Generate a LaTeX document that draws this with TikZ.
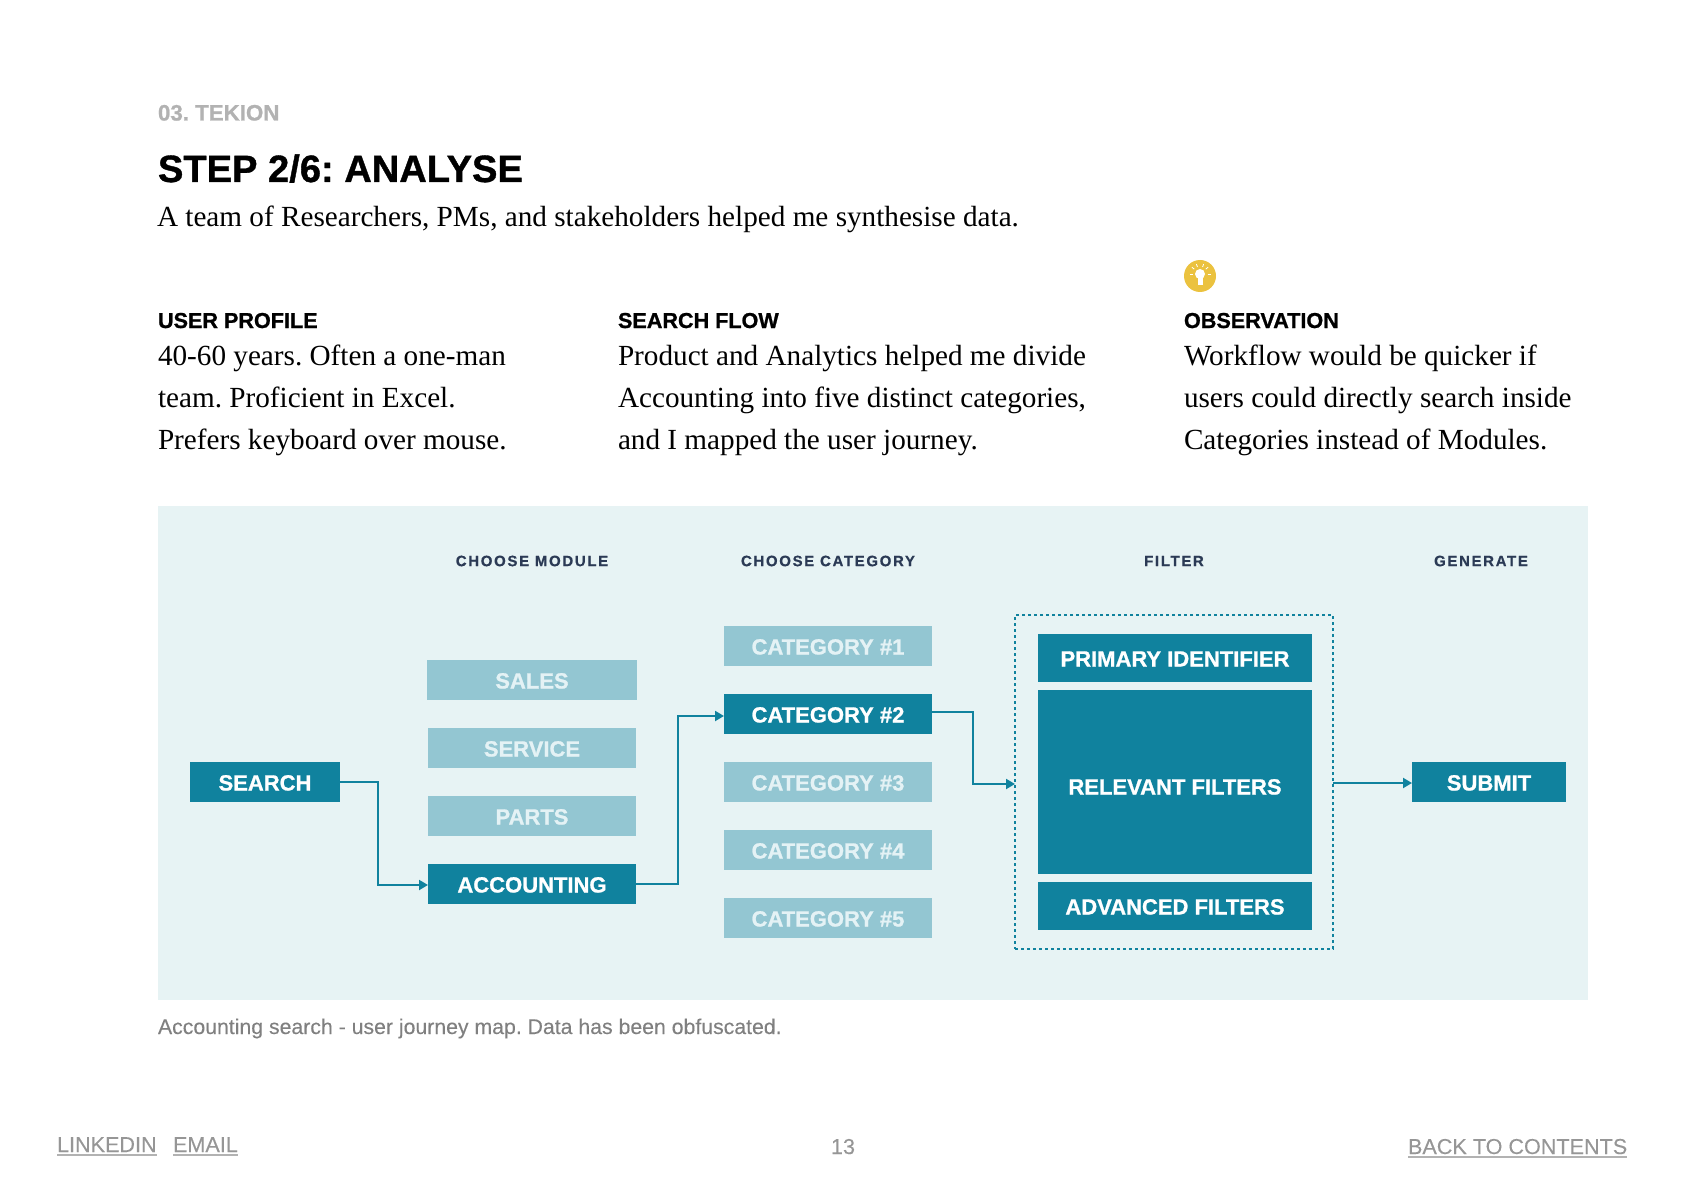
\documentclass[tikz,border=0pt]{standalone}
\usepackage{fontspec}
\setmainfont{Liberation Serif}
\setsansfont{Liberation Sans}
\newfontfamily\spacedfont[LetterSpace=11,BoldFeatures={FakeBold=0.5}]{Liberation Sans}
\newfontfamily\heavyfont[BoldFeatures={FakeBold=1}]{Liberation Sans}
\newfontfamily\mediumfont[FakeBold=0.2]{Liberation Sans}
\usepackage{xcolor}
\definecolor{panel1}{RGB}{231,243,244}
\definecolor{teal3}{RGB}{16,130,158}
\definecolor{teal1}{RGB}{147,198,210}
\definecolor{paletext}{RGB}{228,242,245}
\definecolor{navy3}{RGB}{43,58,85}
\definecolor{gray3}{RGB}{128,128,128}
\definecolor{gray2}{RGB}{150,150,150}
\definecolor{gray1}{RGB}{178,178,178}
\definecolor{bulb3}{RGB}{235,194,63}
\usetikzlibrary{arrows.meta}
\newcommand{\fsize}[1]{\fontsize{#1}{#1}\selectfont}
\tikzset{
  plain/.style={inner sep=0pt, outer sep=0pt},
  darkbox/.style={plain, fill=teal3, text=white, text height=17pt, text depth=0pt, font=\heavyfont\bfseries\fsize{22}},
  lightbox/.style={plain, fill=teal1, text=paletext, text height=17pt, text depth=0pt, font=\heavyfont\bfseries\fsize{22}},
  colhead/.style={plain, text=navy3, font=\spacedfont\bfseries\fsize{15}},
  subhead/.style={plain, anchor=base west, font=\heavyfont\bfseries\fsize{21.6}},
  bodytext/.style={plain, anchor=north west, align=left, font=\fontsize{29.2}{42}\selectfont},
  footlink/.style={plain, text=gray2, font=\mediumfont\fsize{21.6}},
  footrule/.style={gray1, line width=2pt},
  flowline/.style={->, teal3, line width=2pt},
}

\begin{document}
\frenchspacing
\begin{tikzpicture}[x=1pt, y=-1pt, >={Triangle[length=9pt, width=10pt]}]
  \useasboundingbox (0,0) rectangle (1684,1190);

  % Page heading
  \node[plain, anchor=base west, text=gray1, font=\heavyfont\bfseries\fsize{22.3}] (chapter) at (158,120.5) {03. TEKION};
  \node[plain, anchor=base west, font=\heavyfont\bfseries\fsize{38.1}] (title) at (158,182) {STEP 2/6: ANALYSE};
  \node[plain, anchor=base west, font=\fsize{29.2}] (intro) at (157,227) {A team of Researchers, PMs, and stakeholders helped me synthesise data.};

  % Bulb icon
  \node[plain, circle, fill=bulb3, minimum size=32pt] (bulb) at (1200,276) {};
  \fill[white] (1200,274) circle (5pt);
  \fill[white] (1197.5,276) rectangle (1202.5,285);
  \foreach \a in {-90,-50,-20,20,50,90}
    \draw[white, line width=0.8pt] (1200,274) ++(90+\a:7.5pt) -- ++(90+\a:3pt);

  % Three columns
  \node[subhead] (profilehead) at (158,328) {USER PROFILE};
  \node[subhead] (flowhead) at (618,328) {SEARCH FLOW};
  \node[subhead] (obshead) at (1184,328) {OBSERVATION};
  \node[bodytext] (profile) at (158,345) {40-60 years. Often a one-man\\team. Proficient in Excel.\\Prefers keyboard over mouse.};
  \node[bodytext] (flow) at (618,345) {Product and Analytics helped me divide\\Accounting into five distinct categories,\\and I mapped the user journey.};
  \node[bodytext] (obs) at (1184,345) {Workflow would be quicker if\\users could directly search inside\\Categories instead of Modules.};

  % Panel
  \node[plain, fill=panel1, minimum width=1430pt, minimum height=494pt] (panel) at (873,753) {};

  % Column heads
  \node[colhead] (modulehead) at (532,561) {CHOOSE MODULE};
  \node[colhead] (categoryhead) at (828,561) {CHOOSE CATEGORY};
  \node[colhead] (filterhead) at (1174,561) {FILTER};
  \node[colhead] (generatehead) at (1481,561) {GENERATE};

  % Search and modules
  \node[darkbox, minimum width=150pt, minimum height=40pt] (search) at (265,782) {SEARCH};
  \node[lightbox, minimum width=210pt, minimum height=40pt] (sales) at (532,680) {SALES};
  \node[lightbox, minimum width=208pt, minimum height=40pt] (service) at (532,748) {SERVICE};
  \node[lightbox, minimum width=208pt, minimum height=40pt] (parts) at (532,816) {PARTS};
  \node[darkbox, minimum width=208pt, minimum height=40pt] (accounting) at (532,884) {ACCOUNTING};

  % Categories
  \foreach \n/\y in {1/646,3/782,4/850,5/918}
    \node[lightbox, minimum width=208pt, minimum height=40pt] (cat\n) at (828,\y) {CATEGORY \#\n};
  \node[darkbox, minimum width=208pt, minimum height=40pt] (cat2) at (828,714) {CATEGORY \#2};

  % Filter group
  \node[plain, draw=teal3, line width=2pt, dash pattern=on 3pt off 3pt, minimum width=318pt, minimum height=334pt] (filterbox) at (1174,782) {};
  \node[darkbox, minimum width=274pt, minimum height=48pt] (primary) at (1175,658) {PRIMARY IDENTIFIER};
  \node[darkbox, minimum width=274pt, minimum height=184pt] (relevant) at (1175,782) {\raisebox{-4pt}{RELEVANT FILTERS}};
  \node[darkbox, minimum width=274pt, minimum height=48pt] (advanced) at (1175,906) {ADVANCED FILTERS};

  % Submit
  \node[darkbox, minimum width=154pt, minimum height=40pt] (submit) at (1489,782) {SUBMIT};

  % Connectors
  \draw[flowline] (search.east) -- ++(38,0) |- ([yshift=-1pt]accounting.west);
  \draw[flowline] (accounting.east) -- ++(42,0) |- ([yshift=-2pt]cat2.west);
  \draw[flowline] ([yshift=2pt]cat2.east) -- ++(41,0) |- ([yshift=-2pt]filterbox.west);
  \draw[flowline] ([yshift=-1pt]filterbox.east) -- ([yshift=-1pt]submit.west);

  % Caption
  \node[plain, anchor=base west, text=gray3, font=\mediumfont\fsize{21.25}] (caption) at (158,1034) {Accounting search - user journey map. Data has been obfuscated.};

  % Footer
  \node[footlink, anchor=base west] (linkedin) at (57,1152) {LINKEDIN};
  \node[footlink, anchor=base west] (email) at (173,1152) {EMAIL};
  \node[footlink, anchor=base] (pagenum) at (843,1154) {13};
  \node[footlink, anchor=base west] (backlink) at (1408,1154) {BACK TO CONTENTS};
  \draw[footrule] ([yshift=-3pt]linkedin.base west) -- ([yshift=-3pt]linkedin.base east);
  \draw[footrule] ([yshift=-3pt]email.base west) -- ([yshift=-3pt]email.base east);
  \draw[footrule] ([yshift=-3pt]backlink.base west) -- ([yshift=-3pt]backlink.base east);
\end{tikzpicture}
\end{document}
